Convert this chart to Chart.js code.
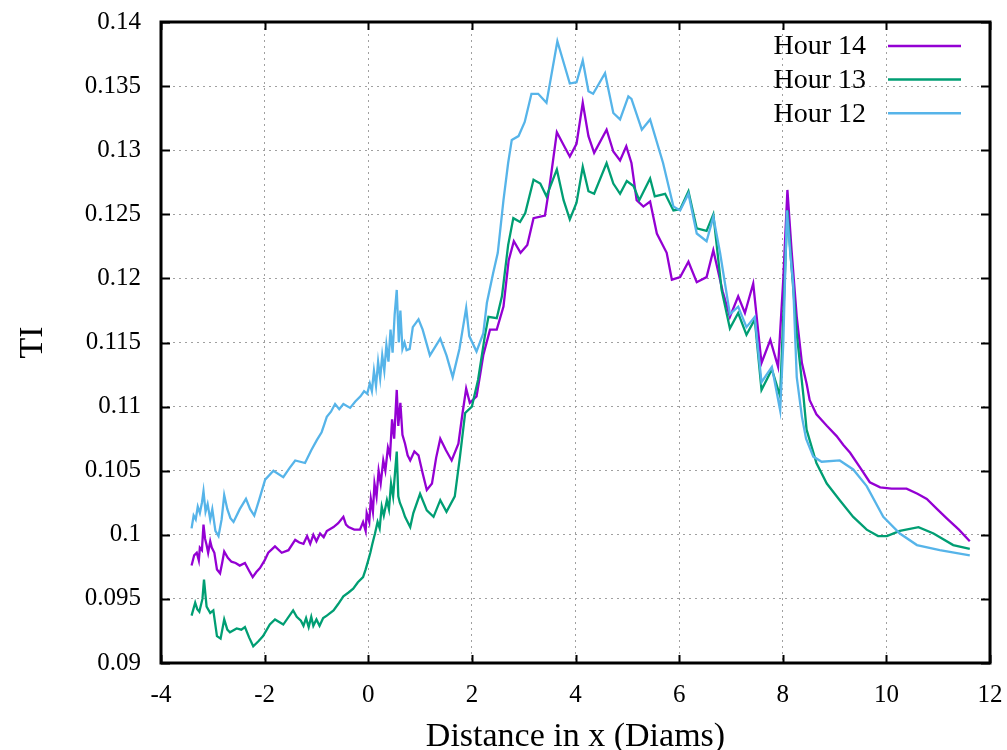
<!DOCTYPE html>
<html>
<head>
<meta charset="utf-8">
<script src="https://cdn.jsdelivr.net/npm/chart.js@4.4.1/dist/chart.umd.min.js"></script>
<style>
  html, body { margin: 0; padding: 0; background: #fff; }
  #wrap { width: 1007px; height: 750px; position: relative; }
</style>
</head>
<body>
<div id="wrap"><canvas id="grafico"></canvas></div>
<script>
// Hour 14 (violeta)
const h14X = [-3.41, -3.36, -3.31, -3.27, -3.25, -3.21, -3.18, -3.15, -3.12, -3.09, -3.05, -3.02, -2.97, -2.92, -2.86, -2.82, -2.78, -2.71, -2.64, -2.56, -2.48, -2.38, -2.30, -2.23, -2.16, -2.09, -2.00, -1.93, -1.80, -1.67, -1.54, -1.41, -1.33, -1.25, -1.18, -1.12, -1.06, -1.00, -0.93, -0.86, -0.80, -0.67, -0.58, -0.48, -0.43, -0.38, -0.27, -0.16, -0.10, -0.05, -0.03, 0.02, 0.05, 0.09, 0.12, 0.16, 0.20, 0.24, 0.29, 0.33, 0.38, 0.42, 0.46, 0.50, 0.55, 0.58, 0.62, 0.66, 0.71, 0.76, 0.81, 0.89, 0.97, 1.05, 1.13, 1.23, 1.31, 1.39, 1.50, 1.61, 1.74, 1.82, 1.89, 1.96, 2.09, 2.16, 2.22, 2.35, 2.48, 2.61, 2.71, 2.81, 2.94, 3.07, 3.19, 3.41, 3.51, 3.64, 3.77, 3.89, 4.02, 4.14, 4.25, 4.36, 4.60, 4.73, 4.86, 4.98, 5.08, 5.18, 5.31, 5.44, 5.57, 5.76, 5.86, 6.02, 6.18, 6.34, 6.53, 6.66, 6.84, 6.98, 7.14, 7.27, 7.43, 7.59, 7.76, 7.91, 8.01, 8.09, 8.17, 8.27, 8.37, 8.46, 8.52, 8.65, 8.85, 9.04, 9.17, 9.30, 9.50, 9.68, 9.88, 10.10, 10.39, 10.60, 10.78, 10.98, 11.16, 11.40, 11.61];
const h14Y = [0.0976, 0.0984, 0.0986, 0.0980, 0.0990, 0.0988, 0.1008, 0.0997, 0.0992, 0.0986, 0.0995, 0.0990, 0.0986, 0.0973, 0.0970, 0.0978, 0.0987, 0.0982, 0.0979, 0.0978, 0.0976, 0.0978, 0.0972, 0.0967, 0.0971, 0.0974, 0.0980, 0.0986, 0.0991, 0.0986, 0.0988, 0.0996, 0.0994, 0.0993, 0.0999, 0.0993, 0.1000, 0.0995, 0.1001, 0.0998, 0.1003, 0.1006, 0.1009, 0.1014, 0.1008, 0.1006, 0.1004, 0.1004, 0.1010, 0.1003, 0.1017, 0.1010, 0.1028, 0.1018, 0.1040, 0.1030, 0.1050, 0.1040, 0.1058, 0.1050, 0.1068, 0.1062, 0.1090, 0.1075, 0.1113, 0.1085, 0.1103, 0.1078, 0.1071, 0.1062, 0.1058, 0.1065, 0.1062, 0.1048, 0.1035, 0.1040, 0.1060, 0.1075, 0.1066, 0.1058, 0.1071, 0.1095, 0.1114, 0.1103, 0.1108, 0.1125, 0.1140, 0.1160, 0.1160, 0.1178, 0.1214, 0.1229, 0.1220, 0.1226, 0.1247, 0.1249, 0.1275, 0.1314, 0.1304, 0.1295, 0.1305, 0.1337, 0.1311, 0.1298, 0.1316, 0.1299, 0.1292, 0.1303, 0.1290, 0.1261, 0.1256, 0.1260, 0.1235, 0.1220, 0.1199, 0.1201, 0.1213, 0.1197, 0.1201, 0.1222, 0.1190, 0.1170, 0.1186, 0.1173, 0.1196, 0.1134, 0.1152, 0.1131, 0.1199, 0.1269, 0.1222, 0.1170, 0.1134, 0.1118, 0.1105, 0.1094, 0.1085, 0.1077, 0.1070, 0.1064, 0.1052, 0.1041, 0.1037, 0.1036, 0.1036, 0.1032, 0.1028, 0.1020, 0.1013, 0.1004, 0.0995];

// Hour 13 (verde)
const h13X = [-3.41, -3.34, -3.30, -3.26, -3.20, -3.17, -3.12, -3.05, -2.99, -2.92, -2.85, -2.78, -2.72, -2.67, -2.54, -2.45, -2.38, -2.30, -2.22, -2.12, -2.03, -1.90, -1.80, -1.64, -1.45, -1.38, -1.30, -1.25, -1.20, -1.15, -1.10, -1.06, -1.00, -0.94, -0.87, -0.80, -0.67, -0.58, -0.48, -0.38, -0.29, -0.20, -0.10, -0.05, 0.00, 0.04, 0.08, 0.13, 0.18, 0.22, 0.26, 0.30, 0.36, 0.40, 0.44, 0.48, 0.52, 0.55, 0.58, 0.61, 0.66, 0.71, 0.76, 0.81, 0.87, 1.00, 1.13, 1.26, 1.39, 1.51, 1.67, 1.77, 1.87, 2.00, 2.12, 2.25, 2.32, 2.48, 2.58, 2.70, 2.80, 2.93, 3.03, 3.19, 3.32, 3.44, 3.64, 3.77, 3.89, 4.02, 4.14, 4.25, 4.36, 4.60, 4.73, 4.86, 4.99, 5.12, 5.23, 5.44, 5.53, 5.73, 5.89, 6.02, 6.18, 6.34, 6.53, 6.66, 6.82, 6.98, 7.14, 7.30, 7.46, 7.59, 7.79, 7.95, 8.01, 8.09, 8.17, 8.27, 8.40, 8.46, 8.65, 8.85, 9.10, 9.36, 9.62, 9.84, 10.01, 10.26, 10.62, 10.91, 11.29, 11.61];
const h13Y = [0.0937, 0.0947, 0.0942, 0.0940, 0.0950, 0.0965, 0.0944, 0.0939, 0.0941, 0.0921, 0.0919, 0.0934, 0.0926, 0.0924, 0.0927, 0.0926, 0.0928, 0.0920, 0.0913, 0.0917, 0.0921, 0.0930, 0.0934, 0.0930, 0.0941, 0.0936, 0.0933, 0.0929, 0.0935, 0.0928, 0.0936, 0.0929, 0.0934, 0.0929, 0.0935, 0.0937, 0.0941, 0.0946, 0.0952, 0.0955, 0.0958, 0.0963, 0.0967, 0.0973, 0.0980, 0.0986, 0.0993, 0.1001, 0.1010, 0.1005, 0.1022, 0.1015, 0.1027, 0.1020, 0.1040, 0.1030, 0.1050, 0.1065, 0.1030, 0.1025, 0.1020, 0.1014, 0.1010, 0.1006, 0.1017, 0.1032, 0.1019, 0.1014, 0.1027, 0.1018, 0.1030, 0.1061, 0.1095, 0.1100, 0.1121, 0.1155, 0.1170, 0.1169, 0.1186, 0.1226, 0.1247, 0.1244, 0.1251, 0.1277, 0.1274, 0.1264, 0.1285, 0.1261, 0.1246, 0.1259, 0.1287, 0.1268, 0.1266, 0.1290, 0.1274, 0.1266, 0.1276, 0.1272, 0.1261, 0.1278, 0.1264, 0.1266, 0.1253, 0.1254, 0.1268, 0.1239, 0.1237, 0.1250, 0.1191, 0.1161, 0.1173, 0.1156, 0.1168, 0.1113, 0.1129, 0.1108, 0.1170, 0.1253, 0.1209, 0.1157, 0.1108, 0.1082, 0.1056, 0.1040, 0.1027, 0.1014, 0.1004, 0.0999, 0.0999, 0.1003, 0.1006, 0.1001, 0.0992, 0.0989];

// Hour 12 (azul)
const h12X = [-3.41, -3.37, -3.33, -3.29, -3.25, -3.21, -3.18, -3.14, -3.10, -3.05, -3.01, -2.95, -2.89, -2.83, -2.78, -2.72, -2.66, -2.60, -2.48, -2.36, -2.28, -2.20, -2.10, -1.99, -1.83, -1.64, -1.52, -1.41, -1.22, -1.10, -0.99, -0.90, -0.85, -0.80, -0.72, -0.64, -0.56, -0.48, -0.35, -0.25, -0.15, -0.08, -0.02, 0.03, 0.07, 0.11, 0.15, 0.19, 0.23, 0.27, 0.31, 0.35, 0.39, 0.43, 0.47, 0.51, 0.55, 0.59, 0.62, 0.66, 0.70, 0.74, 0.80, 0.86, 0.97, 1.05, 1.19, 1.39, 1.51, 1.63, 1.76, 1.89, 1.95, 2.09, 2.22, 2.29, 2.41, 2.50, 2.61, 2.70, 2.77, 2.90, 3.02, 3.15, 3.28, 3.44, 3.65, 3.89, 4.02, 4.14, 4.25, 4.34, 4.57, 4.73, 4.86, 5.02, 5.08, 5.28, 5.44, 5.69, 5.89, 6.02, 6.18, 6.34, 6.53, 6.66, 6.79, 6.98, 7.14, 7.30, 7.46, 7.59, 7.79, 7.95, 8.01, 8.08, 8.14, 8.20, 8.27, 8.37, 8.45, 8.59, 8.75, 9.10, 9.36, 9.62, 9.94, 10.26, 10.59, 11.03, 11.61];
const h12Y = [0.1005, 0.1015, 0.1012, 0.1022, 0.1017, 0.1025, 0.1034, 0.1018, 0.1024, 0.1012, 0.1020, 0.1003, 0.0999, 0.1012, 0.1031, 0.1020, 0.1013, 0.1010, 0.1020, 0.1028, 0.1020, 0.1015, 0.1028, 0.1043, 0.1050, 0.1045, 0.1052, 0.1058, 0.1056, 0.1066, 0.1074, 0.1080, 0.1086, 0.1092, 0.1096, 0.1102, 0.1098, 0.1102, 0.1099, 0.1104, 0.1108, 0.1112, 0.1110, 0.1118, 0.1112, 0.1128, 0.1116, 0.1135, 0.1122, 0.1140, 0.1128, 0.1148, 0.1135, 0.1160, 0.1142, 0.1172, 0.1191, 0.1150, 0.1175, 0.1145, 0.1150, 0.1144, 0.1145, 0.1162, 0.1168, 0.1160, 0.1140, 0.1153, 0.1140, 0.1123, 0.1145, 0.1177, 0.1155, 0.1143, 0.1157, 0.1181, 0.1204, 0.1220, 0.1261, 0.1290, 0.1308, 0.1311, 0.1322, 0.1344, 0.1344, 0.1337, 0.1385, 0.1352, 0.1353, 0.1370, 0.1346, 0.1344, 0.1360, 0.1329, 0.1324, 0.1342, 0.1340, 0.1316, 0.1324, 0.1290, 0.1256, 0.1253, 0.1266, 0.1235, 0.1229, 0.1248, 0.1220, 0.1172, 0.1178, 0.1162, 0.1170, 0.1119, 0.1131, 0.1097, 0.1149, 0.1253, 0.1222, 0.1196, 0.1123, 0.1092, 0.1075, 0.1061, 0.1057, 0.1058, 0.1051, 0.1038, 0.1014, 0.1001, 0.0992, 0.0988, 0.0984];

const FONTE = "'Liberation Serif', 'DejaVu Serif', serif";

function pontos(xs, ys) {
    return xs.map((x, i) => ({ x: x, y: ys[i] }));
}

const series = [
    { label: "Hour 14", cor: "#9400d3", dados: pontos(h14X, h14Y), ordem: 3 },
    { label: "Hour 13", cor: "#009e73", dados: pontos(h13X, h13Y), ordem: 2 },
    { label: "Hour 12", cor: "#56b4e9", dados: pontos(h12X, h12Y), ordem: 1 }
];

// moldura estilo gnuplot + ticks para dentro + legenda
const molduraPlugin = {
    id: "moldura",
    afterLayout(chart) {
        // área do gráfico igual ao intervalo das escalas
        const sx = chart.scales.x, sy = chart.scales.y, a = chart.chartArea;
        a.left = sx.getPixelForValue(sx.min);
        a.right = sx.getPixelForValue(sx.max);
        a.top = sy.getPixelForValue(sy.max);
        a.bottom = sy.getPixelForValue(sy.min);
        a.width = a.right - a.left;
        a.height = a.bottom - a.top;
    },
    afterDatasetsDraw(chart) {
        const ctx = chart.ctx;
        const a = chart.chartArea;
        const sx = chart.scales.x, sy = chart.scales.y;
        ctx.save();
        ctx.strokeStyle = "#000";
        ctx.lineWidth = 2;
        ctx.beginPath();
        sx.ticks.forEach(t => {
            const px = Math.round(sx.getPixelForValue(t.value)) + 0.5;
            ctx.moveTo(px, a.bottom); ctx.lineTo(px, a.bottom - 8);
            ctx.moveTo(px, a.top); ctx.lineTo(px, a.top + 8);
        });
        sy.ticks.forEach(t => {
            const py = Math.round(sy.getPixelForValue(t.value)) + 0.5;
            ctx.moveTo(a.left, py); ctx.lineTo(a.left + 9, py);
            ctx.moveTo(a.right, py); ctx.lineTo(a.right - 9, py);
        });
        ctx.stroke();
        ctx.lineWidth = 3;
        ctx.strokeRect(a.left, a.top, a.right - a.left, a.bottom - a.top);

        // legenda
        ctx.font = "28px " + FONTE;
        ctx.textAlign = "right";
        ctx.textBaseline = "middle";
        series.forEach((s, i) => {
            const y = 46 + i * 33.6;
            ctx.fillStyle = "#000";
            ctx.fillText(s.label, 866, y + 1);
            ctx.strokeStyle = s.cor;
            ctx.lineWidth = 2.5;
            ctx.beginPath();
            ctx.moveTo(888, y); ctx.lineTo(961, y);
            ctx.stroke();
        });
        ctx.restore();
    }
};

const ctx = document.getElementById("grafico").getContext("2d");
const chart = new Chart(ctx, {
    type: "line",
    data: {
        datasets: series.map(s => ({
            label: s.label,
            data: s.dados,
            borderColor: s.cor,
            borderWidth: 2.3,
            pointRadius: 0,
            fill: false,
            tension: 0,
            order: s.ordem
        }))
    },
    options: {
        responsive: true,
        maintainAspectRatio: false,
        animation: false,
        layout: { padding: { top: 22, right: 17, left: 0, bottom: 0 } },
        plugins: {
            legend: { display: false },
            tooltip: { enabled: false }
        },
        scales: {
            x: {
                type: "linear",
                min: -4,
                max: 12,
                ticks: {
                    stepSize: 2,
                    color: "#000",
                    padding: 17,
                    font: { family: FONTE, size: 25 },
                    callback: v => String(v)
                },
                grid: { color: "#a0a0a0", lineWidth: 1, drawTicks: false },
                border: { display: false, dash: [2, 4] },
                title: {
                    display: true,
                    text: "Distance in x (Diams)",
                    color: "#000",
                    font: { family: FONTE, size: 34 },
                    padding: { top: 0, bottom: -7 }
                },
                afterFit: scale => {
                    scale.height = 87;
                    scale.paddingLeft = 0;
                    scale.paddingRight = 0;
                }
            },
            y: {
                min: 0.09,
                max: 0.14,
                ticks: {
                    stepSize: 0.005,
                    color: "#000",
                    padding: 20,
                    font: { family: FONTE, size: 25 },
                    callback: v => String(+v.toFixed(3))
                },
                grid: { color: "#a0a0a0", lineWidth: 1, drawTicks: false },
                border: { display: false, dash: [2, 4] },
                title: {
                    display: true,
                    text: "TI",
                    color: "#000",
                    font: { family: FONTE, size: 34 },
                    padding: { top: 13, bottom: 0 }
                },
                afterFit: scale => {
                    scale.width = 161;
                    scale.paddingTop = 0;
                    scale.paddingBottom = 0;
                }
            }
        }
    },
    plugins: [molduraPlugin]
});
</script>
</body>
</html>
